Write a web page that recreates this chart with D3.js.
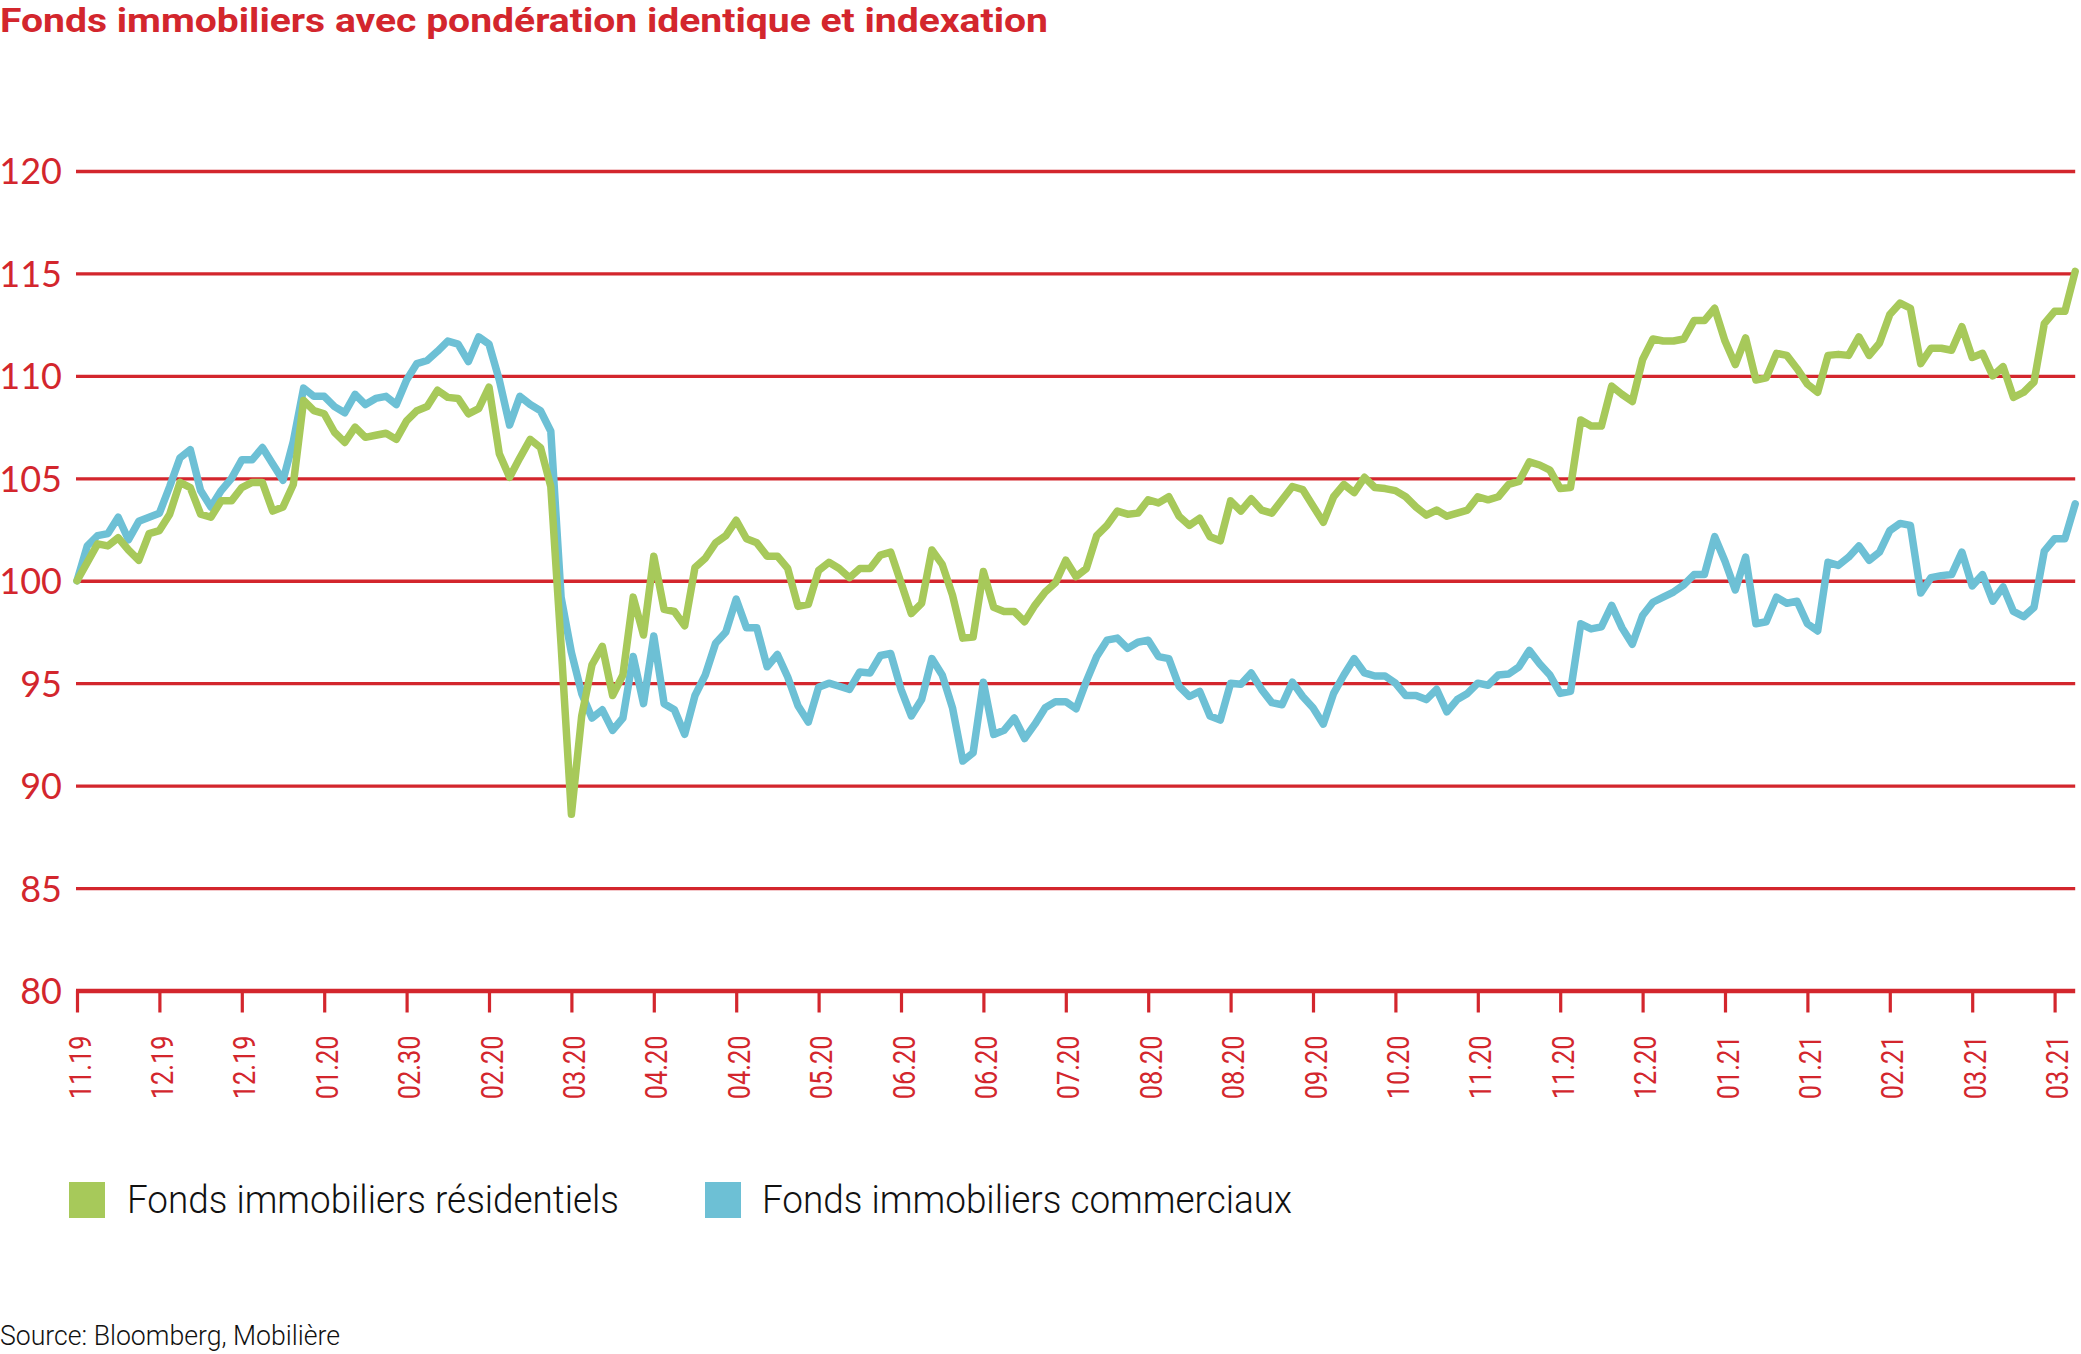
<!DOCTYPE html>
<html><head><meta charset="utf-8">
<script src="https://cdn.jsdelivr.net/npm/d3@7"></script>
<style>body{margin:0;background:#fff;} svg{display:block;}</style>
</head><body>
<svg id="chart" width="2081" height="1354"></svg>
<script>
const titleText = "Fonds immobiliers avec pondération identique et indexation";
const seriesNames = ["Fonds immobiliers résidentiels", "Fonds immobiliers commerciaux"];
const sourceText = "Source: Bloomberg, Mobilière";
const tickLabels = ["11.19","12.19","12.19","01.20","02.30","02.20","03.20","04.20","04.20","05.20","06.20","06.20","07.20","08.20","08.20","09.20","10.20","11.20","11.20","12.20","01.21","01.21","02.21","03.21","03.21"];
const yTicks = [80, 85, 90, 95, 100, 105, 110, 115, 120];
const pointsPerTick = 8;

const residential = [
100,100.9,101.8,101.7,102.1,101.5,101.0,102.3,102.45,103.25,
104.8,104.55,103.25,103.1,103.9,103.9,104.55,104.8,104.8,103.4,
103.6,104.7,108.8,108.3,108.15,107.25,106.75,107.5,107.0,107.1,
107.2,106.9,107.8,108.3,108.5,109.3,108.95,108.9,108.15,108.4,
109.45,106.2,105.05,106.0,106.9,106.5,104.6,96.85,88.6,93.4,
95.9,96.8,94.4,95.4,99.2,97.35,101.2,98.6,98.5,97.8,
100.65,101.1,101.85,102.2,102.95,102.05,101.85,101.2,101.2,100.6,
98.75,98.85,100.5,100.9,100.6,100.15,100.6,100.6,101.25,101.4,
99.9,98.4,98.9,101.5,100.8,99.3,97.2,97.25,100.45,98.7,
98.5,98.5,98.0,98.8,99.45,99.9,101.0,100.2,100.6,102.2,
102.7,103.4,103.25,103.3,103.95,103.8,104.1,103.15,102.7,103.05,
102.15,101.95,103.9,103.4,104.0,103.45,103.3,103.95,104.6,104.45,
103.65,102.85,104.1,104.7,104.3,105.05,104.55,104.5,104.4,104.1,
103.6,103.2,103.45,103.15,103.3,103.45,104.1,103.95,104.1,104.7,
104.85,105.8,105.65,105.4,104.5,104.55,107.85,107.55,107.55,109.5,
109.1,108.75,110.8,111.8,111.7,111.7,111.8,112.7,112.7,113.3,
111.7,110.55,111.85,109.8,109.9,111.1,111.0,110.35,109.6,109.2,
111.0,111.05,111.0,111.9,111.0,111.6,113.0,113.55,113.3,110.6,
111.35,111.35,111.25,112.4,110.9,111.1,110.0,110.45,108.95,109.2,
109.7,112.55,113.15,113.15,115.1
];

const commercial = [
100,101.7,102.2,102.3,103.1,102.0,102.9,103.1,103.3,104.6,
106.0,106.4,104.4,103.6,104.4,105.0,105.9,105.9,106.5,105.7,
104.9,106.8,109.4,109.0,109.0,108.5,108.2,109.1,108.6,108.9,
109.0,108.6,109.8,110.6,110.75,111.2,111.7,111.55,110.7,111.9,
111.55,109.8,107.6,109.0,108.6,108.3,107.3,99.2,96.5,94.5,
93.3,93.7,92.7,93.3,96.3,94.0,97.3,94.0,93.7,92.5,
94.4,95.4,96.95,97.5,99.1,97.7,97.7,95.8,96.4,95.3,
93.9,93.1,94.8,95.0,94.85,94.7,95.55,95.5,96.35,96.45,
94.7,93.4,94.2,96.2,95.4,93.8,91.2,91.6,95.05,92.5,
92.7,93.3,92.3,93.0,93.8,94.1,94.1,93.75,95.1,96.3,
97.1,97.2,96.7,97.0,97.1,96.3,96.2,94.85,94.35,94.6,
93.4,93.2,95.0,94.95,95.5,94.7,94.05,93.95,95.05,94.35,
93.8,93.0,94.5,95.4,96.2,95.5,95.35,95.35,95.0,94.4,
94.4,94.2,94.7,93.6,94.2,94.5,95.0,94.9,95.4,95.45,
95.8,96.6,95.95,95.4,94.5,94.6,97.9,97.65,97.75,98.8,
97.7,96.9,98.3,98.95,99.2,99.45,99.8,100.3,100.3,102.15,
100.95,99.55,101.15,97.9,98.0,99.2,98.9,99.0,97.9,97.55,
100.9,100.75,101.15,101.7,101.0,101.4,102.45,102.8,102.7,99.4,
100.15,100.25,100.3,101.4,99.75,100.3,99.0,99.7,98.5,98.25,
98.7,101.45,102.05,102.05,103.75
];

const RED = "#d3262d";
const GREEN = "#a7c95a";
const BLUE = "#6dc0d5";

const svg = d3.select("#chart");
const x = d3.scaleLinear().domain([0, tickLabels.length - 1]).range([77, 2054.6]);
const y = d3.scaleLinear().domain([80, 120]).range([990.5, 171]);
const plotLeft = 76, plotRight = x(24.25);

// title
svg.append("text")
  .attr("x", 0).attr("y", 32)
  .attr("textLength", 1048).attr("lengthAdjust", "spacingAndGlyphs")
  .style("font-family", "Roboto, 'Liberation Sans', sans-serif")
  .style("font-weight", 700).style("font-size", "33px")
  .attr("fill", RED).text(titleText);

// y axis + gridlines
const yAxis = svg.append("g").attr("transform", `translate(${plotLeft},0)`)
  .call(d3.axisLeft(y).tickValues(yTicks).tickSize(-(plotRight - plotLeft)).tickPadding(14).tickFormat(d3.format("d")));
yAxis.select(".domain").remove();
yAxis.selectAll(".tick line").attr("stroke", RED).attr("stroke-width", d => d === 80 ? 4.5 : 3.3);
yAxis.selectAll(".tick text")
  .attr("fill", RED).attr("dy", "0.36em")
  .style("font-family", "Lato, 'Noto Sans', sans-serif")
  .style("font-size", "36px");

// x axis
const xAxis = svg.append("g").attr("transform", `translate(0,${y(80)})`)
  .call(d3.axisBottom(x).tickValues(d3.range(tickLabels.length)).tickSize(22).tickFormat(i => tickLabels[i]));
xAxis.select(".domain").remove();
xAxis.selectAll(".tick line").attr("stroke", RED).attr("stroke-width", 3.2);
xAxis.selectAll(".tick text")
  .attr("fill", RED)
  .attr("x", 0).attr("y", 0).attr("dy", "0.36em")
  .attr("text-anchor", "end")
  .attr("transform", "translate(2,45) rotate(-90) scale(0.82,1)")
  .style("font-family", "Roboto, 'Noto Sans', sans-serif")
  .style("font-size", "31px");

// lines
const line = d3.line().x((d, i) => x(i / pointsPerTick)).y(d => y(d)).curve(d3.curveLinear);
svg.append("path").datum(commercial)
  .attr("d", line).attr("fill", "none").attr("stroke", BLUE)
  .attr("stroke-width", 7.5).attr("stroke-linejoin", "round").attr("stroke-linecap", "round");
svg.append("path").datum(residential)
  .attr("d", line).attr("fill", "none").attr("stroke", GREEN)
  .attr("stroke-width", 7.5).attr("stroke-linejoin", "round").attr("stroke-linecap", "round");

// legend
const legendItems = [
  {name: seriesNames[0], color: GREEN, rx: 69, tx: 127, len: 492},
  {name: seriesNames[1], color: BLUE, rx: 705, tx: 762, len: 530}
];
const lg = svg.append("g");
legendItems.forEach(it => {
  lg.append("rect").attr("x", it.rx).attr("y", 1182).attr("width", 36).attr("height", 36).attr("fill", it.color);
  lg.append("text").attr("x", it.tx).attr("y", 1213)
    .attr("textLength", it.len).attr("lengthAdjust", "spacingAndGlyphs")
    .style("font-family", "Roboto, 'Liberation Sans', sans-serif")
    .style("font-weight", 300).style("font-size", "39px")
    .attr("fill", "#111").text(it.name);
});

// source
svg.append("text").attr("x", 0).attr("y", 1345)
  .attr("textLength", 340).attr("lengthAdjust", "spacingAndGlyphs")
  .style("font-family", "Roboto, 'Liberation Sans', sans-serif")
  .style("font-weight", 300).style("font-size", "28px")
  .attr("fill", "#111").text(sourceText);
</script>
</body></html>
